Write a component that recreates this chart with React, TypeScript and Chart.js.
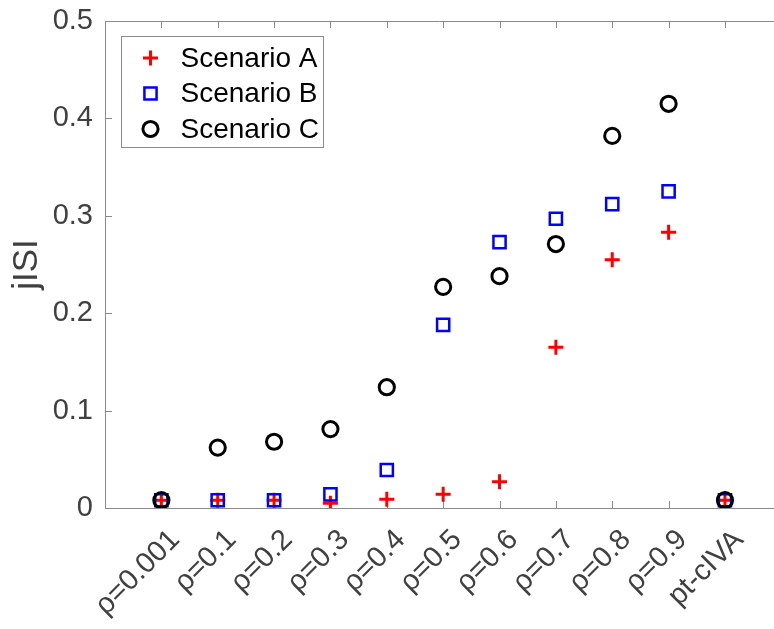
import { useEffect, useRef } from 'react';
import { Chart, registerables } from 'chart.js';

Chart.register(...registerables);

const categories = ['ρ=0.001', 'ρ=0.1', 'ρ=0.2', 'ρ=0.3', 'ρ=0.4', 'ρ=0.5', 'ρ=0.6', 'ρ=0.7', 'ρ=0.8', 'ρ=0.9', 'pt-cIVA'];
const scenarioA = [0.008, 0.008, 0.008, 0.005, 0.009, 0.014, 0.027, 0.165, 0.255, 0.283, 0.008];
const scenarioB = [0.008, 0.008, 0.008, 0.014, 0.039, 0.188, 0.273, 0.297, 0.312, 0.325, 0.008];
const scenarioC = [0.008, 0.062, 0.068, 0.081, 0.124, 0.227, 0.238, 0.271, 0.382, 0.415, 0.008];
const yTickValues = [0, 0.1, 0.2, 0.3, 0.4, 0.5];
const seriesNames = ['Scenario A', 'Scenario B', 'Scenario C'];

const FONT = "'Liberation Sans', Arial, Helvetica, sans-serif";
const AXIS_COLOR = '#8a8a8a';
const TEXT_COLOR = '#404040';

const toPoints = (vals: number[]) => vals.map((v, i) => ({ x: i + 1, y: v }));

const zeroPad = (scale: any) => {
  scale.paddingTop = 0;
  scale.paddingBottom = 0;
  scale.paddingLeft = 0;
  scale.paddingRight = 0;
};

const axisPlugin = {
  id: 'matlabAxes',
  beforeDatasetsDraw(chart: any) {
    const { ctx, chartArea, scales } = chart;
    const { left, right, top, bottom } = chartArea;
    ctx.save();
    ctx.strokeStyle = AXIS_COLOR;
    ctx.lineWidth = 1;
    ctx.beginPath();
    ctx.moveTo(left, top + 0.5);
    ctx.lineTo(right, top + 0.5);
    const tl = 7;
    scales.x.ticks.forEach((t: any) => {
      const px = Math.round(scales.x.getPixelForValue(t.value)) + 0.5;
      ctx.moveTo(px, bottom);
      ctx.lineTo(px, bottom - tl);
      ctx.moveTo(px, top);
      ctx.lineTo(px, top + tl);
    });
    scales.y.ticks.forEach((t: any) => {
      const py = Math.round(scales.y.getPixelForValue(t.value)) + 0.5;
      ctx.moveTo(left, py);
      ctx.lineTo(left + tl, py);
    });
    ctx.stroke();
    ctx.restore();
  },
  afterDraw(chart: any) {
    const { ctx, chartArea } = chart;
    const bx = chartArea.left + 16.5;
    const by = chartArea.top + 15.5;
    const bw = 202;
    const bh = 111;
    ctx.save();
    ctx.fillStyle = '#ffffff';
    ctx.fillRect(bx, by, bw, bh);
    ctx.strokeStyle = AXIS_COLOR;
    ctx.lineWidth = 1;
    ctx.strokeRect(bx, by, bw, bh);
    const rowH = 35.5;
    chart.data.datasets.forEach((ds: any, i: number) => {
      const cy = by + 21.5 + i * rowH;
      const cx = bx + 29;
      ctx.strokeStyle = ds.borderColor;
      ctx.lineWidth = ds.borderWidth;
      const r = ds.pointRadius;
      ctx.beginPath();
      if (ds.pointStyle === 'cross') {
        ctx.moveTo(cx - r, cy);
        ctx.lineTo(cx + r, cy);
        ctx.moveTo(cx, cy - r);
        ctx.lineTo(cx, cy + r);
      } else if (ds.pointStyle === 'rect') {
        const s = Math.SQRT1_2 * r;
        ctx.rect(cx - s, cy - s, 2 * s, 2 * s);
      } else {
        ctx.arc(cx, cy, r, 0, Math.PI * 2);
      }
      ctx.stroke();
      ctx.fillStyle = '#000000';
      ctx.font = `28px ${FONT}`;
      ctx.textAlign = 'left';
      ctx.textBaseline = 'middle';
      ctx.fillText(ds.label, bx + 59, cy + 1);
    });
    ctx.restore();
  },
};

export default function App() {
  const ref = useRef<HTMLCanvasElement | null>(null);
  useEffect(() => {
    document.body.style.margin = '0';
    const canvas = ref.current;
    if (!canvas) return;
    const chart = new Chart(canvas, {
      type: 'scatter',
      data: {
        datasets: [
          {
            label: seriesNames[0],
            data: toPoints(scenarioA),
            pointStyle: 'cross',
            pointRadius: 7.5,
            borderColor: '#ff0000',
            backgroundColor: 'rgba(0,0,0,0)',
            borderWidth: 3,
            order: 3,
          },
          {
            label: seriesNames[1],
            data: toPoints(scenarioB),
            pointStyle: 'rect',
            pointRadius: 8.6,
            borderColor: '#0000ff',
            backgroundColor: 'rgba(0,0,0,0)',
            borderWidth: 2.5,
            order: 2,
          },
          {
            label: seriesNames[2],
            data: toPoints(scenarioC),
            pointStyle: 'circle',
            pointRadius: 7.6,
            borderColor: '#000000',
            backgroundColor: 'rgba(0,0,0,0)',
            borderWidth: 3,
            order: 1,
          },
        ] as any,
      },
      options: {
        animation: false,
        responsive: false,
        maintainAspectRatio: false,
        layout: { autoPadding: false, padding: { top: 21, right: 0, left: 0, bottom: 0 } },
        plugins: { legend: { display: false }, tooltip: { enabled: false } },
        elements: { point: { hoverRadius: 0 } },
        scales: {
          x: {
            type: 'linear',
            min: 0,
            max: 11.87,
            afterBuildTicks: (scale: any) => {
              scale.ticks = categories.map((_, i) => ({ value: i + 1 }));
            },
            afterFit: (scale: any) => {
              scale.height = 121;
              zeroPad(scale);
            },
            ticks: {
              autoSkip: false,
              minRotation: 45,
              maxRotation: 45,
              padding: 15,
              labelOffset: 14,
              color: TEXT_COLOR,
              font: { family: FONT, size: 29 },
              callback: (value: any) => categories[Math.round(value) - 1] ?? '',
            },
            grid: { display: false, drawTicks: false },
            border: { display: true, color: AXIS_COLOR, width: 1 },
          },
          y: {
            type: 'linear',
            min: 0,
            max: 0.5,
            afterBuildTicks: (scale: any) => {
              scale.ticks = yTickValues.map((v) => ({ value: v }));
            },
            afterFit: (scale: any) => {
              scale.width = 105;
              zeroPad(scale);
            },
            ticks: {
              padding: 12,
              color: TEXT_COLOR,
              font: { family: FONT, size: 29 },
              callback: (value: any) => String(Math.round(value * 10) / 10),
            },
            title: {
              display: true,
              text: 'jISI',
              color: TEXT_COLOR,
              font: { family: FONT, size: 35 },
              padding: { top: 6, bottom: 0 },
            },
            grid: { display: false, drawTicks: false },
            border: { display: true, color: AXIS_COLOR, width: 1 },
          },
        },
      } as any,
      plugins: [axisPlugin],
    });
    return () => chart.destroy();
  }, []);
  return (
    <div style={{ width: 774, height: 629, background: '#ffffff' }}>
      <canvas ref={ref} width={774} height={629} style={{ display: 'block' }} />
    </div>
  );
}
